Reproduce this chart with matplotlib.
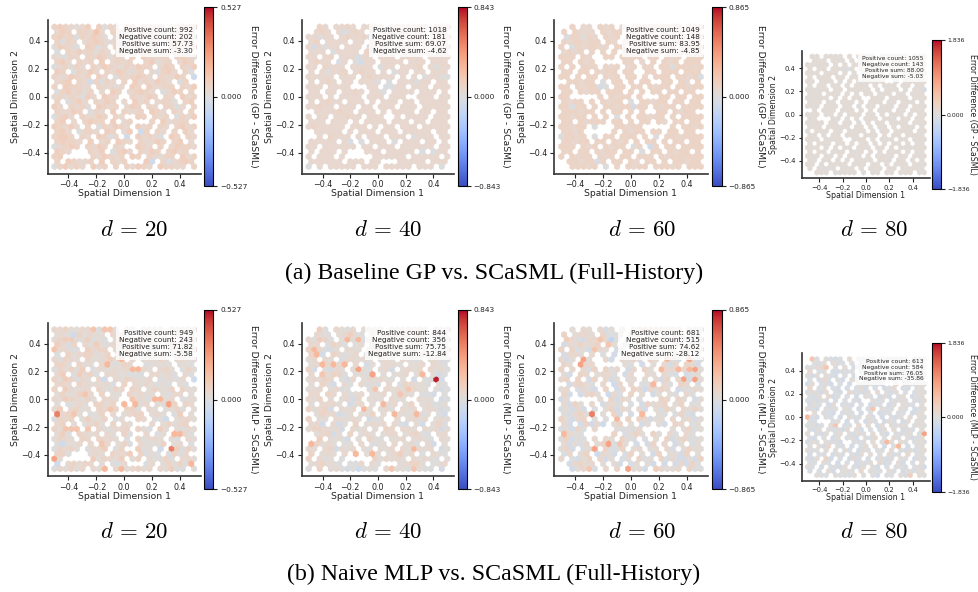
import numpy as np
import matplotlib
matplotlib.use('Agg')
import matplotlib.pyplot as plt

plt.rcParams['mathtext.fontset'] = 'cm'

W, H = 979, 592

# one char per hexagon, top row first, '.' is an empty cell
gp_20 = [
"3432124.4032.34.4322.32433", "243.33252.3213.43320.34.2", "3423032431.23.34213.42.130", "3032.2343123.432.32.24312",
"14320.4302.32134.23..43322", "0.32423132.3303243.23320.", "21032.3243132.3.42233.3421", "342.323.4.2323..34123.243",
"023132.32432132433.243.324", "43.03242.3243123.20342.30", "3124323.42.0323432.32243.a", "234.3243032.3.4232432.03.",
"3.43322.32212.43.42233.324", "0342313.2.43.23432.0243.3", "23132042.432..32243.32.423", "3.0342.3243.2.423.2331.34",
"42.3231.4323.243.32.3302.3", "32243.032.4.3223.432.32.3", "0342.32243.32..43.323.0324", "34.2.3433.4.23...3.42233.",
"43242.3.032432.423.32.3423", "342.0332.43.24..3.32.3.42", "3443.32.4302.3.4232a.43.32", "34332.4.23.432.32243.34.2",
"02343.3243.32..432.3.24332", "432...324.0342.3243.3423.", "34.....324323.43.32133.423", "3.43223.4.323...42.3a2343",
"034232.423.3.32432.43322.3",
]
mlp_20 = [
"22311220055012012211211011", "1203312110221011210112120", "1344114010115211122012201", "4203321410221012110112201",
"5220014233011222210112012", "0131233113021421211301201", "2032113112416122121310221", "3312311122013212011110110",
"0313142021121261211231203", "2410423012211000322120020", "3143021020321321120011023", "2321321212023321210101101",
"3142112231032032313113031", "1311352132111312112102231", "2143213122211352106212301", "1301211331321261221173032",
"2412311032531330121411301", "1235110132211233012130441", "0323214113101323210011122", "2331012314302103221131230",
"3155125221022323102413102", "1402321212143003210106020", "1321232132215023022131032", "0311212152213032101321230",
"0323120224003224011212403", "3300031212322413010203020", "2131202413214213220130322", "0123132113002411020131302",
"0213122216022123122214002",
]
gp_40 = [
"..32.2232.2223.2223222.222", ".232.22232.0.22223.22.223", "22022.23223a.222.22222.22", "23.2222.22.2222.2.2222322",
"2.2022.222.0222.2222.2.22", "222.02222.3022.2.22232.22", "22.23.222a22.222.2222.2222", "2322.22.0.22.2222.222.222",
"22.3222.2222.022.2223.2022", "2.20223.2322.2.022.22.222", "22222.222.232222.2.2.0220.", "2.232.22.2220.0.222022.22",
"222.2222...22.0222.222.222", "22.22.2232.220.2222.222.2", "222.2.2222.222.222..222.22", "2.2322.222.2.222.22.2222",
"22322.222.22.222.222.2222", ".2222322.222.2.2222.22.22", "2.22.22322.222..2.2222.222", "222.222.2.2222.222.22.222",
"2322222.222.2.22.222.22222", ".22222.2.222.222.22222.22", "..2.3222.2.222.222.0222.22", "22222.22.0.222.0.222.22.2",
"22.222222.22.222.222222.22", "2.222.2...222.22222.a.222", "2.222.2.....222222.22222.2", "222222.222.22...22222.222",
"0.2.22222.222.22222.222.0.",
]
mlp_40 = [
"00401210221012210121112201", "0210212410121221131311001", "2043021a16a121121210412000", "22b0320102211120201200000",
"3120b10211221220111101210", "36b032012b0123212122120120", "123214a22121012132100312b0", "1262126220b11121121122210",
"3b21b2111710212b1121212120", "2501330b110701211251101b0", "1213230b20121210110b2001b0", "1231b12012010021032110b10",
"1122120011b0512121121121b0", "2213212012011221521200b10", "2132121212b111b211112112b0", "1222211b12212112113112001",
"3123b0212261112012121121b0", "01322b011113112611120120b0", "3211b211212b0102231212b12", "22b32111321212220b21b2130",
"133212b12112113212211212b", "0123b12311212122212300b12", "0042111b211310211211210b2", "5312100102101132112012b1",
"21123b212211211212112120b", "32121120b1161212412a01210", "32201100612131212112121011", "1231100002120122113311012",
"0032120b0901022511021000b0",
]
gp_60 = [
"..3.22.323.2.333233323.322", "3.3222.3233.23.33.3.23.32", ".233032.323.3.33.3323.333", "3233233.32.3.23.322.33.23",
"3.0323322.33.3233.233.333", "2323.3.3.3.3323.33.2333.3", "333.32..33.3233.33.323.333", "33.323.....33.2.3.323.333",
"3.3.333.323.23.33.33033323", "33.33.3233.33..33.333.3330", "33.3.33.323.33.3.333.33233", ".33233.0.33.3.33..33.32.3",
"33.3233.0.33.33.3233.33233", "33.3233.333.3.3.33.33.33.", "33.....3.3233.3...33.33.33", "3233.3.3233.0.33233.33.33",
"33233.3.33233.33.3233.3333", "333233.3.33.3.3..33.3233.", "33233.3.3.0.3.33233.3.3333", "33.32333.33.3.33.32.33.33",
"33233.0...33233.....3.3323", "3323.....3.3233.33.33.33.", "03323.0.33.333.3.0.3323333", "33233.33.323.3.33.3.33.33",
"333.323.3233.03.33.33.333", "33.33.3233.33.0.33.3233.3", "3.3233.323.33.333.3233333", ".33233.3.33.32.33.3.33233",
"..33323.0.3.3233.33323.333",
]
mlp_60 = [
"00102132b1011b341212233b00", "3b122123a02b131212b2a1200", "0420b2212102113b2131230020", "b2131231510b2131231220010",
"303a1b5213b12121232121201", "b221a2702b21332110b3123b0", "2b13a1202b3213a131361b2700", "31b72200010100b1132b2132b",
"3b212a313021b21312622b260", "1ba32b12201b23121320a2b01", "23131b322b121131b2b3b27bb", "0b2310b21c212000a320a3220",
"123a20b131b2132b2132bb0021", "3b2b2313c2a13b13b1b103201", "b100002133b213000132a312b", "2b31b21b2102a2b3123a13201",
"a1b2b1a213b2132b21a31b2131", "1b231231b3b1b60b2101a30b1", "31b23a0b0b623132b11a2b12b1", "2b1b3c21b13212b121b132301",
"a1b30021b3000022b1021b13a1", "b21000b1b31a131231a20b201", "03b10b2b21b3000a2133b13001", "2b1a2b132a51bb1b3a2bb1101",
"13b3a17b3a03b12b11b2a31311", "a2b132c21b0a3211b3b11b301", "2bab13b2b13a1b3a1b3a2bb1b3", "0b2312b151b2a131b3b3b2b30",
"00b125a02732311b142112b300",
]
gp_80 = [
".11.1111.1.1111.111111.111", ".111.111.1.011.11.11.1111", "11111.1.1.11101.111.11.11", "1.11.11111.1.111.1111.111",
"111.111.1.0.11111.11.1111", "1.111.11.11.1.111.1.11.11", "11.111.1.1.111111..1.11111", "1.11.11.1.111.1.111.11.11",
"11011.11.11111.1.111.1.11a", "111.111.1.1.11.111.11.11", "11111.1.1.11..111.1111.111", "111.11.111.1.111.11.111.1",
"111.111.11.0.11.111.11.111", ".1.111.111.1.1.111.11.11", "111.11.1.111.11.1.111.1.11", "11...11.1.1.111.111.11.1",
"1111.11.11.0.1.11.1111.11", "111.11111.11.1.11.1.111.1", "1.111.11.1111.1.11.1111.11", "11.1.11.111.111.1.11.111",
"111.1111..111.1.111.11.111", "1.111.11.1.11.1.1.11.1.11", "111.1.1.11.111.11.1.11111", "1.11.111.111.1.1.111.1.11",
"111.11.1.111.1.1111.11.11", "11.11.1.1.1111.111.11.1.", "11.1.1111.111.11.1.111.111", "1.1.11.111.1.111.11.1111",
"..111.01111.1.11.11.111.11",
]
mlp_80 = [
"00001ab001b0a1ba010a10b100", "10a1b10a10ba0b1a01b0a0110", "0a120a011ab0ab10a0b1a0b100", "2ba01bb0a01ab01a10ba1b001",
"0b1a10b0a1b01ab01a0ba1200", "a1b2ab0b01a0b01ba1a0b0101", "b10a0b2a0b1a01a0bab21a1000", "20a1bab0b1a1b0a1b01a0b101",
"a10b1a0b02a0b1a1a0b10a1a10", "0b1a2b01a0ba1a0b1b2a10b01", "a0b1a2b0a10b1a1a01a01010b1", "b1a0b12a0b1a2b0a1b0a10a01",
"1ab00a0b1a3b1a0b1a0b1a0ba1", "a1b0ab1a0a1b0a2ba0b0a1b01", "0ab10a1b01a0b1a0b1ab1a1a10", "0a1b2a10b1a0b1a0b1a0b1a01",
"a1b0a101a0b2a10b1a1a10b010", "0b1a0a0b1a1b0a2b1a10b1a11", "1a0b10a1b0a10b1a0b1a0a1b00", "ab10ab10a1b10a2a0b10a1b01",
"b10a1a0b0a0a0b1a0a1a10b010", "0a1b2a0a1b0a1a10b10a1b1a1", "1a0b1a0b1a0b1a1a0a1a0b1a01", "b1a01b1a10b1a1a0b1a0a2b01",
"0b1a3b0a1b2a1b0a1b0b1a0b1a", "a0b1a1b0a1b0a1a2b0a1b1a01", "1a0b1a0b1a0b1a0b0a2a1b0a1b", "b2a01b1010a2b1a0b1a3b1a01",
"0a1a0b1a0a1b0a0b1a0a1b2410",
]

# (row, column, level) for the cells that stand out from the rest
spots_gp_20 = [(27, 17, 'c'), (22, 13, 'c'), (21, 15, 'c'), (5, 0, 'a'), (10, 25, 'c'), (11, 6, 'b')]
spots_gp_40 = [(4, 1, 'b'), (7, 9, 'b'), (1, 6, 'a'), (7, 5, 'a'), (28, 0, '0'), (28, 24, '0'), (10, 25, '0'),
               (25, 22, 'a'), (12, 14, 'a'), (12, 15, 'a'), (23, 7, 'a')]
spots_gp_60 = [(2, 1, 'a'), (12, 7, 'b'), (16, 13, 'b'), (24, 16, 'c'), (27, 6, 'a'), (10, 25, 'a'), (16, 2, 'a')]
spots_gp_80 = [(3, 8, 'a'), (8, 25, 'a'), (27, 3, '0')]
spots_mlp_20 = [(17, 0, '8'), (24, 21, '8'), (26, 0, '7'), (28, 12, '6'), (1, 3, 'c'), (0, 7, '5'), (0, 9, '5'),
                (7, 9, '6'), (8, 15, '6'), (15, 20, '7'), (14, 19, '6'), (15, 12, '6'), (18, 20, 'c'), (24, 19, 'c'),
                (23, 1, 'c'), (27, 0, 'c'), (10, 25, 'c'), (21, 22, '6'), (27, 24, '6'), (20, 2, '5'), (20, 3, '5'),
                (20, 4, '5'), (10, 9, 'c')]
spots_mlp_40 = [(10, 23, '9'), (9, 11, '7'), (15, 13, '6'), (17, 19, '6'), (4, 1, '6'), (2, 7, '6'), (23, 0, '6'),
                (9, 20, '6'), (25, 8, '6'), (28, 9, 'c'), (12, 18, '5'), (24, 19, '6'), (9, 2, '5'), (7, 4, '6'),
                (28, 19, '5'), (19, 5, 'b'), (14, 8, 'b')]
spots_mlp_60 = [(6, 4, '7'), (17, 5, '8'), (10, 24, '7'), (8, 24, '7'), (8, 21, '6'), (23, 8, '7'), (28, 12, '7'),
                (21, 0, '6'), (17, 14, '6'), (11, 16, '6'), (2, 9, 'd'), (12, 15, 'c'), (19, 7, 'c'), (2, 7, '5')]
spots_mlp_80 = [(14, 0, '6'), (18, 25, '7'), (21, 19, '6'), (20, 17, '6'), (2, 4, '5'), (0, 1, '5'), (16, 6, '5'),
                (12, 14, '5'), (28, 22, '4')]

level_chars = 'dcba0123456789'
level_vals = [-0.18, -0.1, -0.06, -0.03, 0.0, 0.04, 0.08, 0.12, 0.17, 0.24, 0.33, 0.45, 0.62, 0.95]

gp_grids = [gp_20, gp_40, gp_60, gp_80]
mlp_grids = [mlp_20, mlp_40, mlp_60, mlp_80]
gp_spots = [spots_gp_20, spots_gp_40, spots_gp_60, spots_gp_80]
mlp_spots = [spots_mlp_20, spots_mlp_40, spots_mlp_60, spots_mlp_80]
usual_level = ['3', '2', '3', '1', '1', '1', '1', '0']
vmaxs = [0.527, 0.843, 0.865, 1.836] * 2
vlabels = ['0.527', '0.843', '0.865', '1.836'] * 2
pos_count = [992, 1018, 1049, 1055, 949, 844, 681, 613]
neg_count = [202, 181, 148, 143, 243, 356, 515, 584]
pos_sum = [57.73, 69.07, 83.95, 88.00, 71.82, 75.75, 74.62, 76.05]
neg_sum = [-3.30, -4.62, -4.85, -5.03, -5.58, -12.84, -28.12, -35.86]
cb_names = ['GP'] * 4 + ['MLP'] * 4
d_vals = [20, 40, 60, 80]
captions = ['(a) Baseline GP vs. SCaSML (Full-History)', '(b) Naive MLP vs. SCaSML (Full-History)']

# pixel boxes: axes left, right, top, bottom, colorbar left, right, top, bottom, label x
boxes = [
    (47.5, 201, 20, 173.5, 204.3, 213.3, 7.3, 186.3, 258),
    (301.7, 454.3, 20, 173.5, 457.7, 466.7, 7.3, 186.3, 510),
    (554.3, 707.7, 20, 173.5, 711.7, 721.7, 7.3, 186.3, 765),
    (801.7, 930, 50.7, 178.3, 931.7, 940.7, 40, 189.3, 977),
    (47.5, 201, 322.7, 475.7, 204.3, 213.3, 310, 489, 258),
    (301.7, 454.3, 322.7, 475.7, 457.7, 466.7, 310, 489, 510),
    (554.3, 707.7, 322.7, 475.7, 711.7, 721.7, 310, 489, 765),
    (801.7, 930, 353.3, 481, 931.7, 940.7, 342.7, 491.7, 977),
]
d_x = [134.5, 388, 642, 874]
d_y = [230, 532]
caption_y = [273, 574]


def px_axes(fig, left, right, top, bottom):
    return fig.add_axes([left / W, 1 - bottom / H, (right - left) / W, (bottom - top) / H])


def cell_x(r):
    if r % 2 == 0:
        return -0.5 + np.arange(26) / 25
    return -0.5 + (np.arange(25) + 0.5) / 25


def grid_points(holes, rows, vmax, spots, usual):
    # holes gives the empty cells, rows the level of each cell
    cells = {}
    for r, (hole_row, row) in enumerate(zip(holes, rows)):
        hole_row = hole_row.ljust(26, usual)
        row = row.ljust(26, usual)
        for c, (x, h, ch) in enumerate(zip(cell_x(r), hole_row, row)):
            if h != '.' and ch != '.':
                cells[(r, c)] = ch
    for r, c, ch in spots:
        cells[(r, c)] = ch
    xs = [cell_x(r)[c] for r, c in cells]
    ys = [0.5 - r / 28 for r, c in cells]
    cs = [level_vals[level_chars.index(ch)] * vmax for ch in cells.values()]
    return xs, ys, cs


fig = plt.figure(figsize=(W / 100, H / 100), dpi=100)

for i in range(8):
    box = boxes[i]
    small = i % 4 == 3
    scale = 0.84 if small else 1.0
    vmax = vmaxs[i]
    ax = px_axes(fig, box[0], box[1], box[2], box[3])
    if i < 4:
        xs, ys, cs = grid_points(gp_grids[i], gp_grids[i], vmax, gp_spots[i], usual_level[i])
    else:
        xs, ys, cs = grid_points(gp_grids[i - 4], mlp_grids[i - 4], vmax, mlp_spots[i - 4], usual_level[i])
    hb = ax.hexbin(xs, ys, C=cs, gridsize=25, extent=(-0.5, 0.5, -0.5, 0.5),
                   cmap='coolwarm', vmin=-vmax, vmax=vmax, linewidths=0.3)
    ax.set_xlim(-0.55, 0.55)
    ax.set_ylim(-0.55, 0.55)
    ax.set_xticks([-0.4, -0.2, 0.0, 0.2, 0.4])
    ax.set_yticks([-0.4, -0.2, 0.0, 0.2, 0.4])
    ax.tick_params(labelsize=5.8 * scale, length=3 * scale, width=0.8, pad=2, colors='#222222')
    ax.spines['top'].set_visible(False)
    ax.spines['right'].set_visible(False)
    for s in ['left', 'bottom']:
        ax.spines[s].set_linewidth(1.2)
        ax.spines[s].set_color('#333333')
    ax.set_xlabel('Spatial Dimension 1', fontsize=6.7 * scale, labelpad=0, color='#222222')
    ax.set_ylabel('Spatial Dimension 2', fontsize=6.7 * scale, labelpad=1, color='#222222')
    stats = ('Positive count: %d\nNegative count: %d\nPositive sum: %.2f\nNegative sum: %.2f'
             % (pos_count[i], neg_count[i], pos_sum[i], neg_sum[i]))
    ax.text(0.948, 0.955, stats, transform=ax.transAxes, ha='right', va='top',
            fontsize=5.2 * scale, color='#222222', zorder=5, linespacing=1.2,
            bbox=dict(facecolor='white', edgecolor='none', alpha=0.8, pad=2.5))

    cax = px_axes(fig, box[4], box[5], box[6], box[7])
    cb = fig.colorbar(hb, cax=cax)
    cb.set_ticks([-vmax, 0, vmax])
    cb.set_ticklabels(['\u2212' + vlabels[i], '0.000', vlabels[i]])
    cb.ax.tick_params(labelsize=5.3 * scale, length=3 * scale, width=0.8, pad=2, colors='#222222')
    cb.outline.set_linewidth(0.8)
    cb.set_label('Error Difference (%s - SCaSML)' % cb_names[i], rotation=270, fontsize=6.7 * scale, color='#222222')
    cb.ax.yaxis.set_label_coords((box[8] - box[4]) / (box[5] - box[4]), 0.5)

for y in d_y:
    for x, d in zip(d_x, d_vals):
        fig.text(x / W, 1 - y / H, r'$d\,=\,%d$' % d, fontsize=16.5, ha='center', va='center')

for y, cap in zip(caption_y, captions):
    fig.text(494 / W, 1 - y / H, cap, fontsize=17.2, family='Liberation Serif', ha='center', va='center')

fig.savefig('out.png', dpi=100)
